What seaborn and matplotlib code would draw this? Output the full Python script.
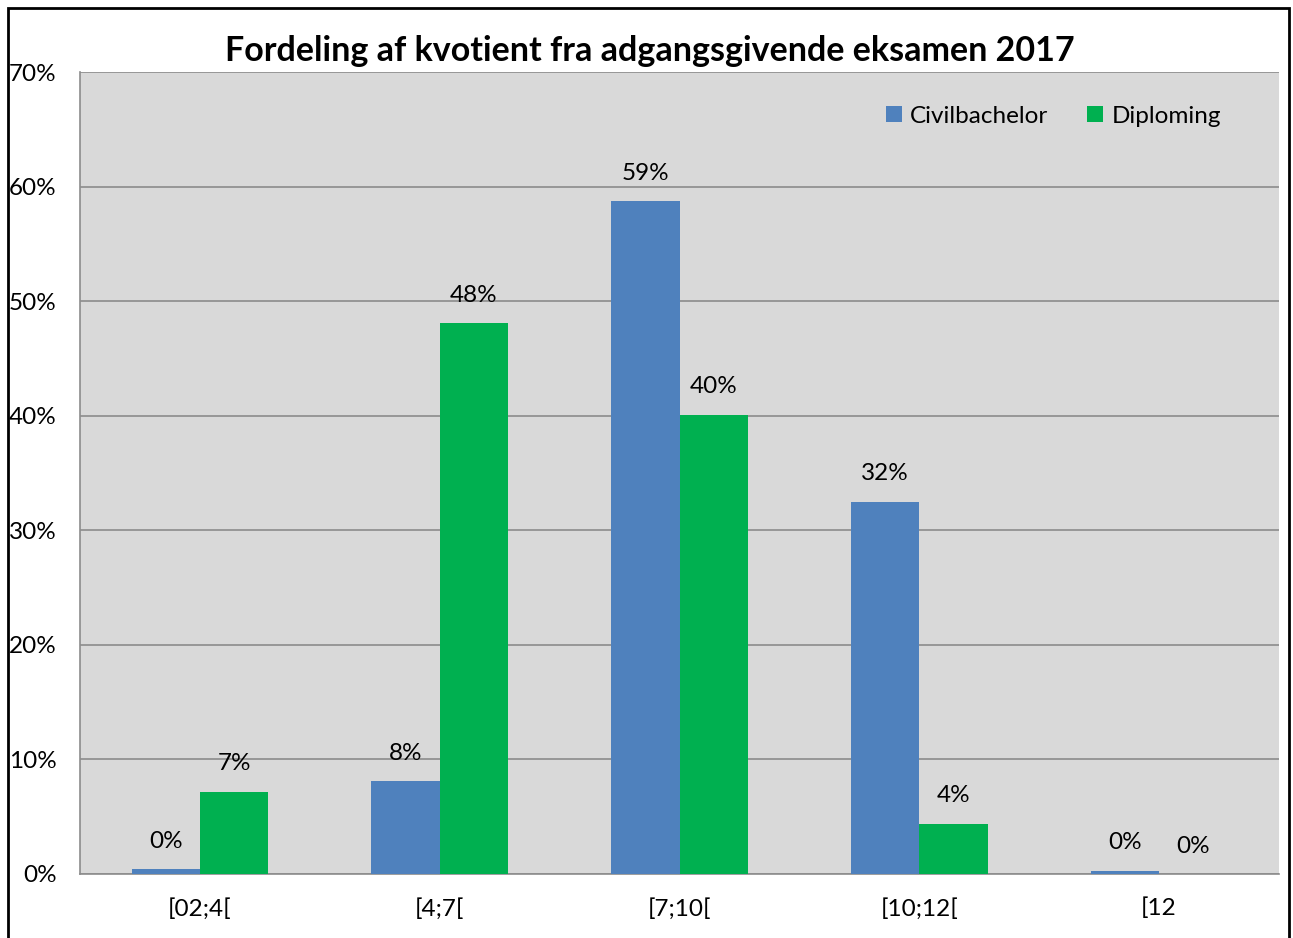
import pandas as pd
import seaborn as sns
import matplotlib.pyplot as plt
from matplotlib.patches import Rectangle
from matplotlib.ticker import FuncFormatter

# data (percent)
intervals = ['[02;4[', '[4;7[', '[7;10[', '[10;12[', '[12']
civilbachelor = [0.4, 8.1, 58.7, 32.5, 0.3]
diploming = [7.2, 48.1, 40.1, 4.4, 0.0]
series_names = ['Civilbachelor', 'Diploming']

df = pd.DataFrame({
    'Interval': intervals * 2,
    'Andel': civilbachelor + diploming,
    'Uddannelse': [series_names[0]] * len(intervals) + [series_names[1]] * len(intervals),
})

sns.set_style('white')
plt.rcParams['font.family'] = ['Lato', 'DejaVu Sans']
plt.rcParams['text.color'] = 'black'

fig = plt.figure(figsize=(12.93, 9.38), dpi=100)
ax = fig.add_axes([80 / 1293, 1 - 874 / 938, 1199 / 1293, 802 / 938])
ax.set_facecolor('#D9D9D9')

sns.barplot(data=df, x='Interval', y='Andel', hue='Uddannelse',
            palette=['#4F81BD', '#00B050'], width=0.57, gap=0,
            linewidth=0, saturation=1, ax=ax, zorder=3)

# data labels
for container in ax.containers:
    for bar in container:
        h = bar.get_height()
        ax.annotate(f'{h:.0f}%', (bar.get_x() + bar.get_width() / 2, h),
                    xytext=(0, 20), textcoords='offset points',
                    ha='center', va='center', fontsize=17.5, color='black')

ax.set_ylim(0, 70)
ax.set_yticks(range(0, 71, 10))
ax.yaxis.set_major_formatter(FuncFormatter(lambda v, p: f'{v:.0f}%'))
ax.grid(axis='y', color='#8C8C8C', linewidth=1.2, zorder=0)
ax.set_axisbelow(True)
ax.set_xlabel('')
ax.set_ylabel('')
ax.tick_params(axis='y', labelsize=17.5, length=5, color='#8C8C8C', pad=12,
               labelcolor='black')
ax.tick_params(axis='x', labelsize=17.5, length=0, pad=17, labelcolor='black')
for s in ['top', 'right']:
    ax.spines[s].set_visible(False)
for s in ['left', 'bottom']:
    ax.spines[s].set_color('#8C8C8C')
    ax.spines[s].set_linewidth(1.2)

ax.legend(title=None, frameon=False, ncol=2, fontsize=17.5,
          loc='upper right', bbox_to_anchor=(0.97, 0.985),
          handlelength=0.65, handleheight=0.65, handletextpad=0.35, columnspacing=1.6)

fig.text(650 / 1293, 1 - 51 / 938, 'Fordeling af kvotient fra adgangsgivende eksamen 2017',
         ha='center', va='center', fontsize=24.5, fontweight='bold', color='black')

# black frame around the chart
fig.patches.append(Rectangle((8 / 1293, -0.05), 1281 / 1293, 1.05 - 8 / 938,
                             transform=fig.transFigure, fill=False,
                             edgecolor='black', linewidth=2))

fig.savefig('out.png', dpi=100, facecolor='white')
